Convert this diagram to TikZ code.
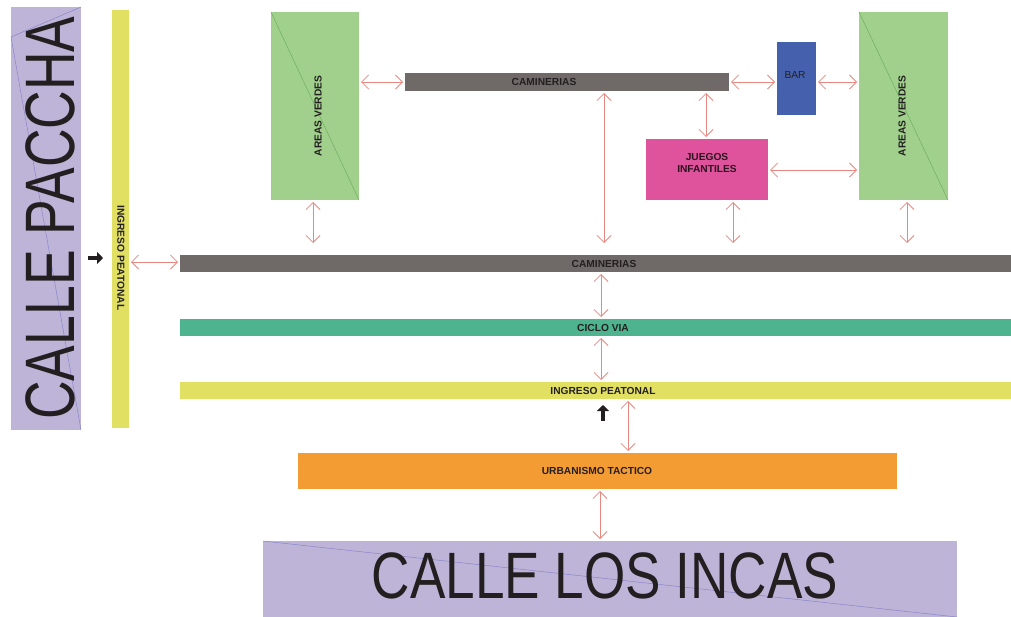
\documentclass[tikz,border=0pt]{standalone}
\usepackage{fontspec}
\setmainfont{Liberation Sans}
\usetikzlibrary{arrows.meta}
\definecolor{lav}{HTML}{BDB4D8}
\definecolor{lavline}{HTML}{8A86C8}
\definecolor{ylw}{HTML}{E2E062}
\definecolor{gry}{HTML}{6F6A67}
\definecolor{teal2}{HTML}{4EB48F}
\definecolor{orng}{HTML}{F49C34}
\definecolor{grn}{HTML}{A0D08C}
\definecolor{grnline}{HTML}{6FAE5E}
\definecolor{blu}{HTML}{4561AD}
\definecolor{pnk}{HTML}{DE539B}
\definecolor{rar}{HTML}{E8877F}
\definecolor{txt}{HTML}{231F20}
\tikzset{
  box/.style={draw=none, inner sep=0pt, outer sep=0pt, anchor=north west},
  lbl/.style={font=\fontsize{10.2}{12}\selectfont\bfseries, text=txt, inner sep=0pt, align=center},
  rarr/.style={draw=rar, line width=0.8pt, {Straight Barb[length=7pt,width=14pt]}-{Straight Barb[length=7pt,width=14pt]}, shorten <=2pt, shorten >=2pt},
  blk/.style={draw=txt, line width=3.4pt, -{Triangle[length=6pt,width=12pt]}},
}
\begin{document}
\begin{tikzpicture}[x=1pt,y=-1pt]
\useasboundingbox (0,0) rectangle (1011,616);
% streets
\node[box, fill=lav, minimum width=70pt, minimum height=423pt] (cp) at (11,7) {};
\draw[lavline, line width=0.5pt] (11,37) -- (cp.north east);
\draw[lavline, line width=0.5pt] (11,37) -- (cp.south east);
\node[rotate=90, inner sep=0pt, text=txt, font=\fontsize{70}{70}\selectfont] (cptext) at (50,218) {\scalebox{0.764}[1]{CALLE PACCHA}};
\node[box, fill=lav, minimum width=694pt, minimum height=76pt] (cli) at (263,541) {};
\draw[lavline, line width=0.5pt] (cli.north west) -- (cli.south east);
\node[inner sep=0pt, text=txt, font=\fontsize{65.6}{66}\selectfont] (clitext) at (605,576) {\scalebox{0.81}[1]{CALLE LOS INCAS}};
% vertical ingreso
\node[box, fill=ylw, minimum width=17pt, minimum height=418pt] (ivb) at (112,10) {};
\node[lbl, rotate=-90] (ivt) at (121,258) {INGRESO PEATONAL};
% bands
\node[box, fill=gry, minimum width=831pt, minimum height=17pt] (cam2) at (180,255) {};
\node[lbl] (cam2t) at (604,263.5) {CAMINERIAS};
\node[box, fill=teal2, minimum width=831pt, minimum height=17pt] (cv) at (180,319) {};
\node[lbl] (cvt) at (603,327.5) {CICLO VIA};
\node[box, fill=ylw, minimum width=831pt, minimum height=17pt] (ip) at (180,382) {};
\node[lbl] (ipt) at (603,390.5) {INGRESO PEATONAL};
\node[box, fill=orng, minimum width=599pt, minimum height=36pt] (ut) at (298,453) {};
\node[lbl] (utt) at (597,471) {URBANISMO TACTICO};
% top elements
\node[box, fill=gry, minimum width=324pt, minimum height=18pt] (cam1) at (405,73) {};
\node[lbl] (cam1t) at (544,82) {CAMINERIAS};
\node[box, fill=grn, minimum width=88pt, minimum height=188pt] (av1) at (271,12) {};
\draw[grnline, line width=0.5pt] (av1.north west) -- (av1.south east);
\node[lbl, rotate=90] (av1t) at (318,116) {AREAS VERDES};
\node[box, fill=grn, minimum width=89pt, minimum height=188pt] (av2) at (859,12) {};
\draw[grnline, line width=0.5pt] (av2.north west) -- (av2.south east);
\node[lbl, rotate=90] (av2t) at (902,116) {AREAS VERDES};
\node[box, fill=blu, minimum width=39pt, minimum height=73pt] (bar) at (777,42) {};
\node[lbl, font=\fontsize{10.2}{12}\selectfont] (bart) at (795,75) {BAR};
\node[box, fill=pnk, minimum width=122pt, minimum height=61pt] (ji) at (646,139) {};
\node[lbl, text=black!80!pnk] (jit) at (707,163) {JUEGOS\\INFANTILES};
% helper coordinates
\coordinate (x313) at (313,0);
\coordinate (x604) at (604,0);
\coordinate (x706) at (706,0);
\coordinate (x733) at (733,0);
\coordinate (x907) at (907,0);
\coordinate (x601) at (601,0);
\coordinate (x628) at (628,0);
\coordinate (x600) at (600,0);
\coordinate (y262) at (0,262);
\coordinate (y82) at (0,82);
\coordinate (y170) at (0,170);
\coordinate (y243) at (0,245);
% connectors
\draw[rarr] (ivb.east |- y262) -- (cam2.west |- y262);
\draw[rarr] (av1.east |- y82) -- (cam1.west |- y82);
\draw[rarr] (cam1.east |- y82) -- (bar.west |- y82);
\draw[rarr] (bar.east |- y82) -- (av2.west |- y82);
\draw[rarr] (cam1.south -| x706) -- (ji.north -| x706);
\draw[rarr] (ji.east |- y170) -- (av2.west |- y170);
\draw[rarr] (cam1.south -| x604) -- (x604 |- y243);
\draw[rarr] (av1.south -| x313) -- (x313 |- y243);
\draw[rarr] (ji.south -| x733) -- (x733 |- y243);
\draw[rarr] (av2.south -| x907) -- (x907 |- y243);
\draw[rarr] (cam2.south -| x601) -- (cv.north -| x601);
\draw[rarr] (cv.south -| x601) -- (ip.north -| x601);
\draw[rarr] (ip.south -| x628) -- (ut.north -| x628);
\draw[rarr] (ut.south -| x600) -- (cli.north -| x600);
% black arrows
\coordinate (ba1s) at (88,258);
\coordinate (ba1e) at (103,258);
\coordinate (ba2s) at (603,421);
\coordinate (ba2e) at (603,405);
\draw[blk] (ba1s) -- (ba1e);
\draw[blk] (ba2s) -- (ba2e);
\end{tikzpicture}
\end{document}
